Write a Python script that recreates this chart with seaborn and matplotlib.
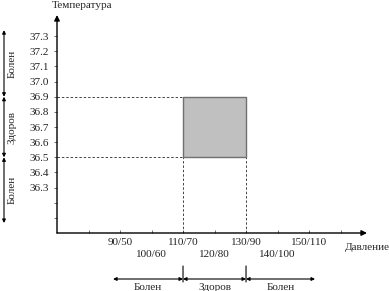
import matplotlib
matplotlib.use("Agg")
import matplotlib.pyplot as plt
import seaborn as sns
import numpy as np

# ---- data ----
pressure_ticks = [80, 90, 100, 110, 120, 130, 140, 150, 160]
pressure_labels_top = ["90/50", "110/70", "130/90", "150/110"]
pressure_pos_top = [90, 110, 130, 150]
pressure_labels_bot = ["100/60", "120/80", "140/100"]
pressure_pos_bot = [100, 120, 140]
temp_ticks = [36.1, 36.2, 36.3, 36.4, 36.5, 36.6, 36.7, 36.8, 36.9, 37.0, 37.1, 37.2, 37.3]
temp_labels = ["", "", "36.3", "36.4", "36.5", "36.6", "36.7", "36.8", "36.9", "37.0", "37.1", "37.2", "37.3"]
healthy_pressure = [110, 130]
healthy_temp = [36.5, 36.9]
temp_zones = [("Болен", 37.34, 36.9), ("Здоров", 36.9, 36.5), ("Болен", 36.5, 36.066)]
pressure_zones = [("Болен", 87.8, 110), ("Здоров", 110, 130), ("Болен", 130, 151.9)]

sns.set_theme(style="white")
plt.rcParams["font.family"] = ["Liberation Serif", "DejaVu Serif"]

FS = 8
W, H = 389, 291
fig = plt.figure(figsize=(W / 100, H / 100), dpi=100)
ax = fig.add_axes([57 / W, (H - 233) / H, (367 - 57) / W, (233 - 15) / H])
x0, x1 = 70, 168.4
y0, y1 = 36.0, 37.44
ax.set_xlim(x0, x1)
ax.set_ylim(y0, y1)
for s in ax.spines.values():
    s.set_visible(False)
ax.set_facecolor("none")
fig.patch.set_facecolor("white")

axcol = "#555555"
# axes with arrows
ax.annotate("", xy=(x1, y0), xytext=(x0, y0),
            arrowprops=dict(arrowstyle="-|>", color="black", lw=1.0,
                            mutation_scale=8, shrinkA=0, shrinkB=0),
            annotation_clip=False)
ax.annotate("", xy=(x0, y1), xytext=(x0, y0),
            arrowprops=dict(arrowstyle="-|>", color="black", lw=1.0,
                            mutation_scale=8, shrinkA=0, shrinkB=0),
            annotation_clip=False)

# ticks
ax.set_xticks(pressure_ticks)
ax.set_xticklabels([])
ax.set_yticks(temp_ticks)
ax.set_yticklabels(temp_labels, fontsize=FS)
ax.tick_params(axis="x", direction="in", length=2, width=0.6, colors=axcol, bottom=True)
ax.tick_params(axis="y", direction="out", length=2, width=0.6, colors=axcol, left=True, pad=4)
for lab in ax.get_yticklabels():
    lab.set_color("#222222")
ax.grid(False)

xt = ax.get_xaxis_transform()
for p, l in zip(pressure_pos_top, pressure_labels_top):
    ax.text(p, -0.045, l, transform=xt, ha="center", va="center", fontsize=FS, color="#222222")
for p, l in zip(pressure_pos_bot, pressure_labels_bot):
    ax.text(p, -0.10, l, transform=xt, ha="center", va="center", fontsize=FS, color="#222222")

fig.text(367 / W, 1 - 247 / H, "Давление", ha="center", va="center", fontsize=FS)
fig.text(82 / W, 1 - 6 / H, "Температура", ha="center", va="center", fontsize=FS)

# healthy box
ax.fill_between(healthy_pressure, healthy_temp[0], healthy_temp[1],
                facecolor="#c0c0c0", edgecolor="#707070", lw=1.0, zorder=3)
# dashed guides
for t in healthy_temp:
    ax.plot([x0, healthy_pressure[0]], [t, t], ls=(0, (2.5, 2)), color="#444444", lw=0.7)
for p in healthy_pressure:
    ax.plot([p, p], [y0, healthy_temp[0]], ls=(0, (2.5, 2)), color="#444444", lw=0.7)

# left zone arrows
yx = ("figure fraction", "data")
for label, ya, yb in temp_zones:
    ax.annotate("", xy=(4 / W, yb), xytext=(4 / W, ya), xycoords=yx, textcoords=yx,
                arrowprops=dict(arrowstyle="<|-|>", color="black", lw=0.8,
                                mutation_scale=5, shrinkA=0, shrinkB=0),
                annotation_clip=False)
    ax.annotate(label, xy=(12 / W, (ya + yb) / 2), xycoords=yx, rotation=90,
                ha="center", va="center", fontsize=FS, annotation_clip=False)

# bottom zone arrows
xy_b = ("data", "figure fraction")
for p in healthy_pressure:
    ax.annotate("", xy=(p, 1 - 282 / H), xytext=(p, 1 - 266 / H), xycoords=xy_b, textcoords=xy_b,
                arrowprops=dict(arrowstyle="-", color="black", lw=0.8, shrinkA=0, shrinkB=0),
                annotation_clip=False)
for label, xa, xb in pressure_zones:
    ax.annotate("", xy=(xb, 1 - 279 / H), xytext=(xa, 1 - 279 / H), xycoords=xy_b, textcoords=xy_b,
                arrowprops=dict(arrowstyle="<|-|>", color="black", lw=0.8,
                                mutation_scale=5, shrinkA=0, shrinkB=0),
                annotation_clip=False)
    ax.annotate(label, xy=((xa + xb) / 2, 1 - 288 / H), xycoords=xy_b,
                ha="center", va="center", fontsize=FS, annotation_clip=False)

fig.savefig("out.png", dpi=100)
